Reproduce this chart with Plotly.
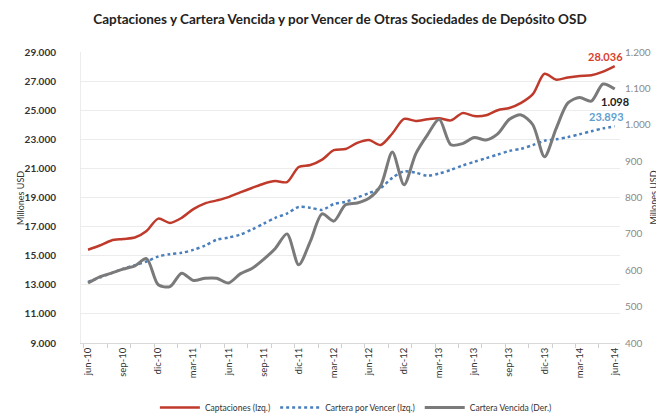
import plotly.graph_objects as go

# Month index 0..45 (labels every 3 points)
tick_labels = ["jun-10", "sep-10", "dic-10", "mar-11", "jun-11", "sep-11", "dic-11", "mar-12",
               "jun-12", "dic-12", "mar-13", "jun-13", "sep-13", "dic-13", "mar-14", "jun-14"]

captaciones = [15410, 15700, 16050, 16150, 16250, 16700, 17550, 17250, 17600, 18200,
               18600, 18800, 19030, 19350, 19650, 19950, 20130, 20060, 21100, 21230,
               21600, 22250, 22330, 22750, 22950, 22610, 23400, 24400, 24260, 24380,
               24450, 24300, 24800, 24600, 24650, 25000, 25150, 25500, 26100, 27500,
               27100, 27250, 27350, 27400, 27650, 28036]

cartera_por_vencer = [13200, 13500, 13800, 14100, 14350, 14600, 14950, 15100, 15200, 15400,
                      15700, 16100, 16250, 16450, 16800, 17200, 17600, 17900, 18350, 18300,
                      18150, 18550, 18700, 19000, 19300, 19650, 20350, 20800, 20700, 20500,
                      20650, 20900, 21200, 21450, 21700, 21950, 22200, 22350, 22600, 22900,
                      23000, 23150, 23350, 23550, 23750, 23893]

cartera_vencida = [565, 582, 592, 603, 612, 632, 560, 555, 592, 572,
                   578, 578, 565, 590, 605, 630, 660, 700, 615, 680,
                   755, 735, 780, 785, 798, 832, 925, 835, 920, 972,
                   1015, 945, 948, 965, 958, 975, 1015, 1027, 1000, 912,
                   990, 1060, 1075, 1065, 1112, 1098]

x = list(range(len(captaciones)))
tick_vals = [i * 3 for i in range(len(tick_labels))]

RED = "#bf3a2b"
BLUE = "#4a7fbd"
GRAY = "#7a7a7a"
FONT = "Lato"

W, H = 664, 414
L, R, T, B = 73, 52, 44, 79
pw, ph = W - L - R, H - T - B

fig = go.Figure()
fig.add_trace(go.Scatter(x=x, y=captaciones, name="Captaciones (Izq.)", mode="lines",
                         line=dict(color=RED, width=2.5, shape="spline", smoothing=0.8)))
fig.add_trace(go.Scatter(x=x, y=cartera_por_vencer, name="Cartera por Vencer (Izq.)", mode="lines",
                         line=dict(color=BLUE, width=2.5, dash="dot", shape="spline", smoothing=0.8)))
fig.add_trace(go.Scatter(x=x, y=cartera_vencida, name="Cartera Vencida (Der.)", mode="lines",
                         yaxis="y2",
                         line=dict(color=GRAY, width=3, shape="spline", smoothing=0.8)))

fig.add_annotation(x=x[-1], y=captaciones[-1], text="<b>28.036</b>", showarrow=False,
                   xanchor="center", yanchor="bottom", xshift=-9, yshift=1,
                   font=dict(color="#d9412e", size=11, family=FONT))
fig.add_annotation(x=x[-1], y=cartera_vencida[-1], yref="y2", text="<b>1.098</b>", showarrow=False,
                   xanchor="center", yanchor="top", xshift=0, yshift=-4,
                   font=dict(color="#222222", size=11, family=FONT))
fig.add_annotation(x=x[-1], y=cartera_por_vencer[-1], text="<b>23.893</b>", showarrow=False,
                   xanchor="center", yanchor="bottom", xshift=-8, yshift=1,
                   font=dict(color="#5f9fd0", size=11, family=FONT))

# left axis title (pixel position converted to paper coordinates)
fig.add_annotation(x=(12 - L) / pw, y=1 - (190 - T) / ph, xref="paper", yref="paper",
                   text="Millones USD", showarrow=False, textangle=-90,
                   xanchor="center", yanchor="middle",
                   font=dict(size=9, color="#333333", family=FONT))

fig.update_layout(
    width=W, height=H,
    margin=dict(l=L, r=R, t=T, b=B, autoexpand=False),
    paper_bgcolor="white", plot_bgcolor="white",
    separators=",.",
    font=dict(family=FONT, color="#333333"),
    title=dict(text="<b>Captaciones y Cartera Vencida y por Vencer de Otras Sociedades de Depósito OSD</b>",
               x=0.5, xanchor="center", y=0.985, yanchor="top",
               font=dict(size=13.5, color="#222222", family=FONT)),
    showlegend=True,
    legend=dict(orientation="h", x=0.51, xanchor="center", yref="container",
                y=0.0, yanchor="bottom",
                font=dict(size=8.5, color="#333333", family=FONT), itemwidth=40,
                tracegroupgap=0),
    xaxis=dict(range=[-0.6, 45.45], tickmode="array", tickvals=tick_vals, ticktext=tick_labels,
               tickangle=-90, showgrid=False, zeroline=False, showline=True, automargin=False,
               linecolor="#d9d9d9", linewidth=1, ticks="",
               tickfont=dict(size=9.5, color="#333333", family=FONT),
               minor=dict(ticks="outside", dtick=2, tick0=-0.35, ticklen=4, tickcolor="#d0d0d0",
                          showgrid=False)),
    yaxis=dict(range=[9000, 29000], tick0=9000, dtick=2000, tickformat=",d", showgrid=True,
               gridcolor="#ececec", gridwidth=1, zeroline=False, showline=True, automargin=False,
               linecolor="#ececec", ticklabelstandoff=22,
               tickfont=dict(size=10, color="#333333", family=FONT, weight="bold")),
    yaxis2=dict(range=[400, 1200], tick0=400, dtick=100, tickformat=",d", overlaying="y", side="right",
                showgrid=False, zeroline=False, showline=False, automargin=False,
                ticklabelstandoff=4,
                tickfont=dict(size=10, color="#8a8a8a", family=FONT),
                title=dict(text="Millones USD", standoff=0,
                           font=dict(size=9, color="#333333", family=FONT))),
)

fig.write_html("out.html")
